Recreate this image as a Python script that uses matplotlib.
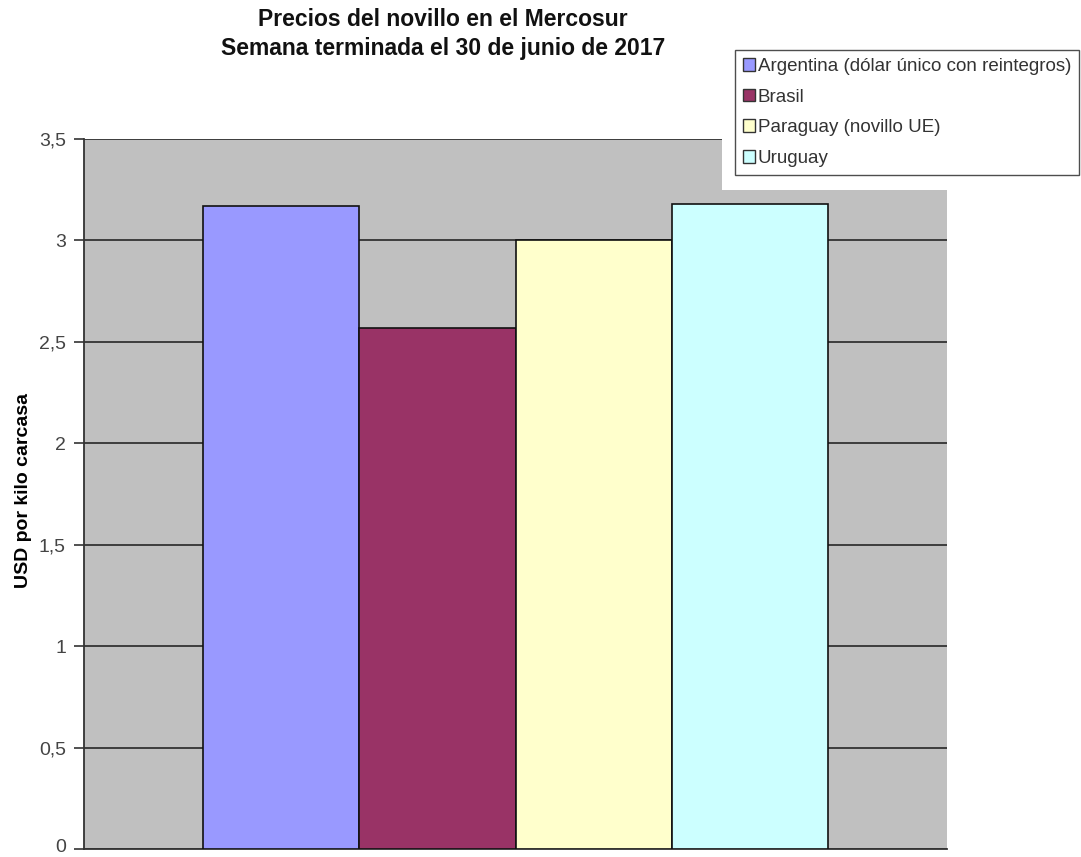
import matplotlib.pyplot as plt
import matplotlib.transforms as mtransforms
from matplotlib.patches import Rectangle, Patch

plt.rcParams['font.family'] = ['Liberation Sans', 'DejaVu Sans']

series = ['Argentina (dólar único con reintegros)', 'Brasil',
          'Paraguay (novillo UE)', 'Uruguay']
values = [3.17, 2.57, 3.00, 3.18]
colors = ['#9999FF', '#993366', '#FFFFCC', '#CCFFFF']
yticks = [0, 0.5, 1, 1.5, 2, 2.5, 3, 3.5]
ytick_labels = ['0', '0,5', '1', '1,5', '2', '2,5', '3', '3,5']

W, H = 1081, 857
fig = plt.figure(figsize=(W / 100, H / 100), dpi=100)
ax = fig.add_axes([84 / W, 1 - 849 / H, (947 - 84) / W, (849 - 139) / H])
ax.set_facecolor('#C0C0C0')

width = 0.181
n = len(values)
for i, (v, c) in enumerate(zip(values, colors)):
    x = (i - (n - 1) / 2) * width
    ax.bar(x, v, width=width, color=c, edgecolor='#111111', linewidth=1.2, zorder=3)

ax.set_xlim(-0.5, 0.5)
ax.set_ylim(0, 3.5)
ax.set_yticks(yticks)
ax.set_yticklabels(ytick_labels, fontsize=14, color='#444444')
ax.set_xticks([])
ax.yaxis.grid(True, color='#333333', linewidth=1.3, zorder=1)
ax.set_axisbelow(True)
for s in ['top', 'right']:
    ax.spines[s].set_visible(False)
ax.spines['left'].set_color('#333333')
ax.spines['bottom'].set_color('#333333')
ax.spines['left'].set_linewidth(1.3)
ax.spines['bottom'].set_linewidth(1.3)
ax.tick_params(axis='y', length=7, width=1.2, color='#333333', pad=6)

# nudge the "0" label up a little so it is not cut at the bottom edge
zero_lbl = ax.get_yticklabels()[0]
zero_lbl.set_transform(zero_lbl.get_transform() +
                       mtransforms.ScaledTranslation(0, 3 / 100, fig.dpi_scale_trans))

ax.set_ylabel('USD por kilo carcasa', fontsize=14, fontweight='bold')
ax.yaxis.set_label_coords((32 - 84) / (947 - 84), 0.505)

fig.text(443 / W, 1 - 19 / H, 'Precios del novillo en el Mercosur',
         ha='center', va='center', fontsize=16.5, fontweight='bold', color='#111111')
fig.text(443 / W, 1 - 48 / H, 'Semana terminada el 30 de junio de 2017',
         ha='center', va='center', fontsize=16.5, fontweight='bold', color='#111111')

# white area behind the legend that covers the top-right of the plot
fig.patches.append(Rectangle((722 / W, 1 - 190 / H), (W - 722) / W, (190 - 40) / H,
                             transform=fig.transFigure, facecolor='white',
                             edgecolor='none', zorder=5))

handles = [Patch(facecolor=c, edgecolor='#333333', linewidth=1.0) for c in colors]
leg = fig.legend(handles, series, loc='upper left',
                 bbox_to_anchor=(735 / W, 1 - 50 / H), fontsize=13.5,
                 frameon=True, fancybox=False, handlelength=0.65, handleheight=0.65,
                 handletextpad=0.15, labelspacing=0.73, borderpad=0.42,
                 borderaxespad=0)
leg.get_frame().set_edgecolor('#222222')
leg.get_frame().set_linewidth(1.0)
leg.set_zorder(6)
for t in leg.get_texts():
    t.set_color('#333333')

fig.savefig('out.png', dpi=100)
